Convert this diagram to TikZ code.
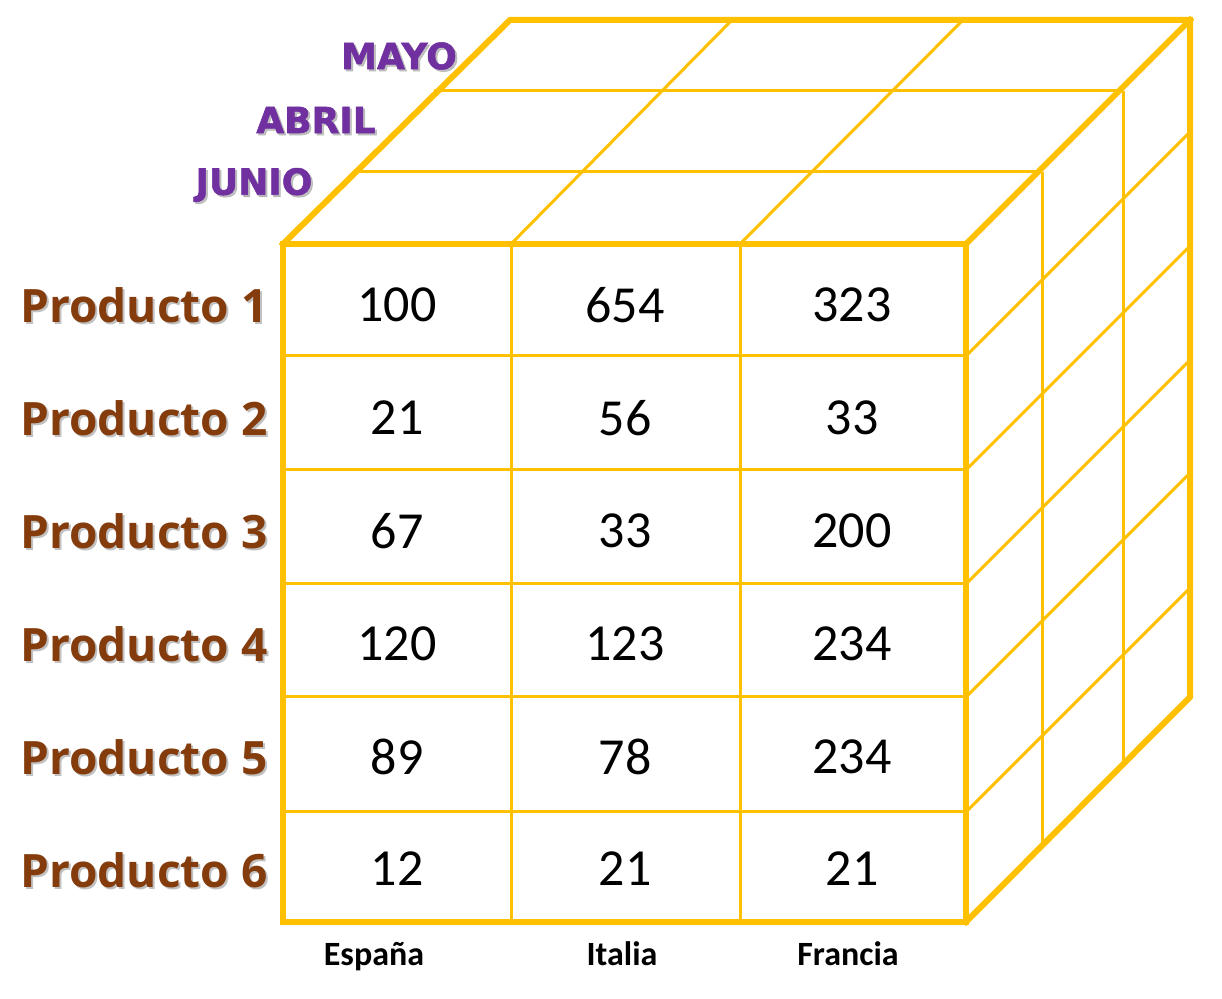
\documentclass[tikz,border=0pt]{standalone}
\usepackage{fontspec}
\setmainfont{Carlito}
\newfontfamily\prodfont{Open Sans}
\newfontfamily\monthfont{DejaVu Sans}[BoldFeatures={FakeBold=1.5}]
\definecolor{cubeyellow}{HTML}{FFC000}
\definecolor{prodbrown}{HTML}{843C0C}
\definecolor{monthpurple}{HTML}{7030A0}
\definecolor{shadowgray}{HTML}{A6A6A6}
\tikzset{
  thickedge/.style={draw=cubeyellow, line width=3pt, line join=miter, line cap=rect},
  thinedge/.style={draw=cubeyellow, line width=1.5pt},
  numtext/.style={font=\fontsize{26}{30}\selectfont, text=black, inner sep=0pt},
  prodtext/.style={font=\prodfont\bfseries\fontsize{23}{27}\selectfont, text=prodbrown, inner sep=0pt},
  prodshadow/.style={font=\prodfont\bfseries\fontsize{23}{27}\selectfont, text=shadowgray, opacity=0.7, inner sep=0pt},
  monthtext/.style={font=\monthfont\bfseries\fontsize{18}{21}\selectfont, text=monthpurple, inner sep=0pt},
  monthshadow/.style={font=\monthfont\bfseries\fontsize{18}{21}\selectfont, text=shadowgray, opacity=0.7, inner sep=0pt},
  countrytext/.style={font=\bfseries\fontsize{17}{20}\selectfont, text=black, inner sep=0pt, anchor=base}
}
\begin{document}
\begin{tikzpicture}[x=0.5pt, y=-0.5pt]
\useasboundingbox (0,0) rectangle (1222,999);
% corner coordinates
\coordinate (FTL) at (283,244);
\coordinate (FTR) at (966,244);
\coordinate (FBL) at (283,922);
\coordinate (FBR) at (966,922);
\coordinate (BTL) at (510,20);
\coordinate (BTR) at (1190,20);
\coordinate (BBR) at (1190,697);
% --- thin lines: front grid
\foreach \y in {356,470,584,697,812} {
  \draw[thinedge] (283,\y) -- (966,\y);
  \draw[thinedge] (966,\y) -- ++(224,-224);
}
\foreach \x in {511,740} {
  \draw[thinedge] (\x,244) -- (\x,922);
}
% top face
\draw[thinedge] (358,172) -- (1042,172);
\draw[thinedge] (434,91) -- (1123,91);
\draw[thinedge] (511,244) -- (732,20);
\draw[thinedge] (740,244) -- (963,20);
% right face verticals
\draw[thinedge] (1042,172) -- (1042,848);
\draw[thinedge] (1123,91) -- (1123,765);
% --- thick outline
\draw[thickedge] (FTL) rectangle (FBR);
\draw[thickedge] (FTL) -- (BTL) -- (BTR) -- (BBR) -- (FBR);
\draw[thickedge] (FTR) -- (BTR);
% --- month labels
\node[monthshadow] (mayoS) at (401,58) {MAYO};
\node[monthtext] (mayo) at (399,56) {MAYO};
\node[monthshadow] (abrilS) at (318,122) {ABRIL};
\node[monthtext] (abril) at (316,120) {ABRIL};
\node[monthshadow] (junioS) at (256,187) {JUNIO};
\node[monthtext] (junio) at (254,185) {JUNIO};
% --- product labels
\foreach \i/\y in {1/305,2/418,3/531,4/644,5/757,6/870} {
  \node[prodshadow] (p\i S) at (146,\y+2) {Producto \i};
  \node[prodtext] (p\i) at (144,\y) {Producto \i};
}
% --- numbers
\foreach \r/\y/\a/\b/\c in {1/305/100/654/323, 2/418/21/56/33, 3/531/67/33/200, 4/644/120/123/234, 5/757/89/78/234, 6/869/12/21/21} {
  \node[numtext] (n\r a) at (397,\y) {\a};
  \node[numtext] (n\r b) at (625,\y) {\b};
  \node[numtext] (n\r c) at (852,\y) {\c};
}
% --- countries
\node[countrytext] (espana) at (374,965) {España};
\node[countrytext] (italia) at (622,965) {Italia};
\node[countrytext] (francia) at (848,965) {Francia};
\end{tikzpicture}
\end{document}
